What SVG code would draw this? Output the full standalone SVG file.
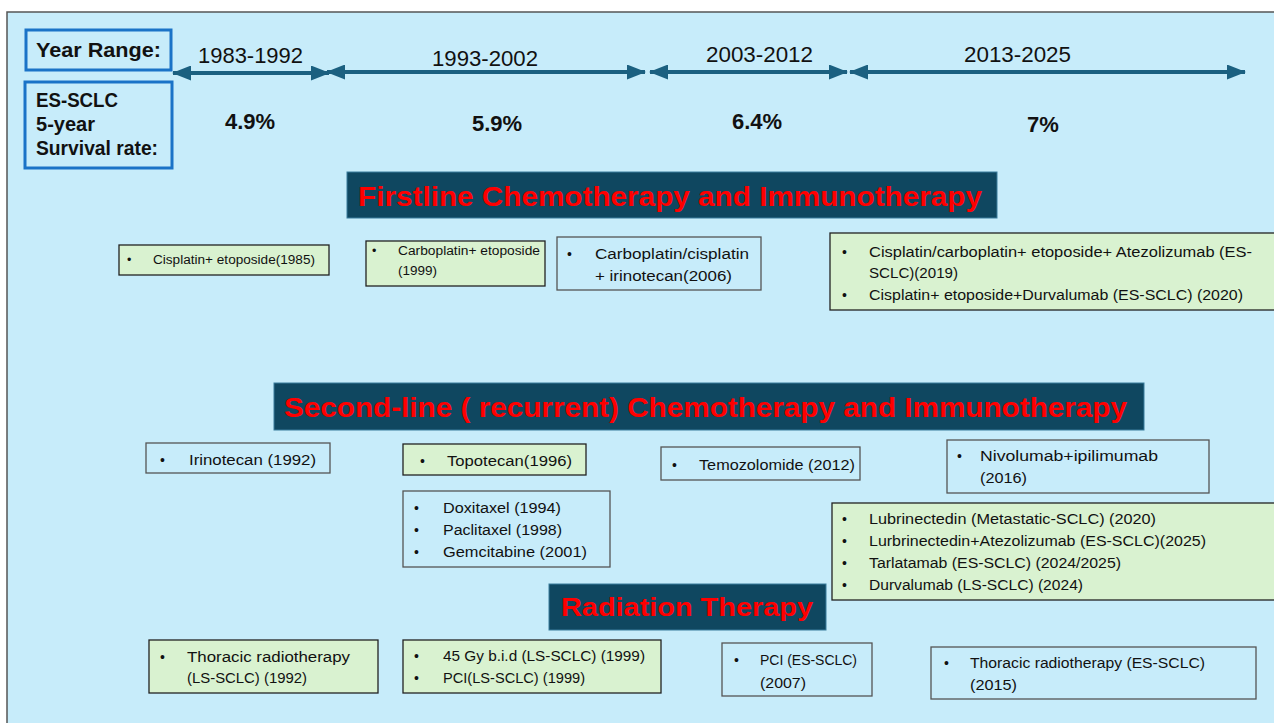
<svg xmlns="http://www.w3.org/2000/svg" width="1274" height="723" viewBox="0 0 1274 723">
<style>
.lbl{font-family:"Liberation Sans",Arial,sans-serif;font-weight:bold;font-size:20px;fill:#111}
.yr{font-family:"Liberation Sans",Arial,sans-serif;font-size:21.5px;fill:#111}
.pct{font-family:"Liberation Sans",Arial,sans-serif;font-weight:bold;font-size:22px;fill:#111}
.hdr{font-family:"Liberation Sans",Arial,sans-serif;font-weight:bold;fill:#ff0000}
.hbox{fill:#0f4760;stroke:#3a7d9c;stroke-width:1}
.bx{font-family:"Liberation Sans",Arial,sans-serif;font-size:14px;fill:#111}
.sm{font-size:12.5px}
.g{fill:#d9f2d0;stroke:#222;stroke-width:1.3}
.b{fill:#c7ecfa;stroke:#555;stroke-width:1.3}
.kb{fill:none;stroke:#1a73c7;stroke-width:3}
.arr{stroke:#1b6080;stroke-width:4;fill:none}
</style>
<defs>
<marker id="ah" viewBox="0 0 19 15" refX="18" refY="7.5" markerWidth="19" markerHeight="15" markerUnits="userSpaceOnUse" orient="auto-start-reverse">
<path d="M0,0 L19,7.5 L0,15 Z" fill="#1b6080"/>
</marker>
</defs>
<rect x="0" y="0" width="1274" height="723" fill="#ffffff"/>
<rect x="7" y="12" width="1280" height="720" fill="#c7ecfa" stroke="#555" stroke-width="1.5"/>

<g id="key-year">
<rect class="kb" x="26" y="30" width="145" height="40"/>
<text class="lbl" x="36" y="57" textLength="125" lengthAdjust="spacingAndGlyphs">Year Range:</text>
</g>
<g id="key-survival">
<rect class="kb" x="25" y="82" width="147" height="86"/>
<text class="lbl" x="36" y="107" textLength="82" lengthAdjust="spacingAndGlyphs">ES-SCLC</text>
<text class="lbl" x="36" y="131" textLength="59" lengthAdjust="spacingAndGlyphs">5-year</text>
<text class="lbl" x="36" y="155" textLength="122" lengthAdjust="spacingAndGlyphs">Survival rate:</text>
</g>

<g id="connectors">
<line class="arr" x1="173" y1="73" x2="329" y2="73" marker-start="url(#ah)" marker-end="url(#ah)"/>
<line class="arr" x1="327" y1="72" x2="645" y2="72" marker-start="url(#ah)" marker-end="url(#ah)"/>
<line class="arr" x1="650" y1="72" x2="847" y2="72" marker-start="url(#ah)" marker-end="url(#ah)"/>
<line class="arr" x1="850" y1="72" x2="1245" y2="72" marker-start="url(#ah)" marker-end="url(#ah)"/>
</g>

<g id="timeline-labels">
<text class="yr" x="198" y="63" textLength="105" lengthAdjust="spacingAndGlyphs">1983-1992</text>
<text class="yr" x="432" y="66" textLength="106" lengthAdjust="spacingAndGlyphs">1993-2002</text>
<text class="yr" x="706" y="62" textLength="107" lengthAdjust="spacingAndGlyphs">2003-2012</text>
<text class="yr" x="964" y="62" textLength="107" lengthAdjust="spacingAndGlyphs">2013-2025</text>
<text class="pct" x="250" y="129" text-anchor="middle">4.9%</text>
<text class="pct" x="497" y="131" text-anchor="middle">5.9%</text>
<text class="pct" x="757" y="129" text-anchor="middle">6.4%</text>
<text class="pct" x="1043" y="132" text-anchor="middle">7%</text>
</g>

<g id="hdr-firstline">
<rect class="hbox" x="347" y="172" width="650" height="46"/>
<text class="hdr" x="358" y="206" font-size="28" textLength="624" lengthAdjust="spacingAndGlyphs">Firstline Chemotherapy and Immunotherapy</text>
</g>
<g id="hdr-secondline">
<rect class="hbox" x="274" y="383" width="870" height="47"/>
<text class="hdr" x="284" y="417" font-size="28" textLength="843" lengthAdjust="spacingAndGlyphs">Second-line ( recurrent) Chemotherapy and Immunotherapy</text>
</g>
<g id="hdr-radiation">
<rect class="hbox" x="549" y="584" width="277" height="46"/>
<text class="hdr" x="561" y="616" font-size="26" textLength="252" lengthAdjust="spacingAndGlyphs">Radiation Therapy</text>
</g>

<g id="n-cis-eto">
<rect class="g" x="119" y="245" width="210" height="30"/>
<text class="bx sm" x="127" y="264">•</text>
<text class="bx sm" x="153" y="264" textLength="162" lengthAdjust="spacingAndGlyphs">Cisplatin+ etoposide(1985)</text>
</g>
<g id="n-carbo-eto">
<rect class="g" x="366" y="241" width="179" height="45"/>
<text class="bx sm" x="372" y="255">•</text>
<text class="bx sm" x="398" y="255" textLength="142" lengthAdjust="spacingAndGlyphs">Carboplatin+ etoposide</text>
<text class="bx sm" x="398" y="275" textLength="39" lengthAdjust="spacingAndGlyphs">(1999)</text>
</g>
<g id="n-carbo-irino">
<rect class="b" x="557" y="237" width="204" height="53"/>
<text class="bx" x="567" y="259">•</text>
<text class="bx" x="595" y="259" textLength="154" lengthAdjust="spacingAndGlyphs">Carboplatin/cisplatin</text>
<text class="bx" x="595" y="281" textLength="137" lengthAdjust="spacingAndGlyphs">+ irinotecan(2006)</text>
</g>
<g id="n-atezo-durva">
<rect class="g" x="830" y="233" width="450" height="77"/>
<text class="bx" x="842" y="257">•</text>
<text class="bx" x="869" y="257" textLength="383" lengthAdjust="spacingAndGlyphs">Cisplatin/carboplatin+ etoposide+ Atezolizumab (ES-</text>
<text class="bx" x="869" y="278" textLength="89" lengthAdjust="spacingAndGlyphs">SCLC)(2019)</text>
<text class="bx" x="842" y="300">•</text>
<text class="bx" x="869" y="300" textLength="374" lengthAdjust="spacingAndGlyphs">Cisplatin+ etoposide+Durvalumab (ES-SCLC) (2020)</text>
</g>

<g id="n-irinotecan">
<rect class="b" x="146" y="443" width="184" height="30"/>
<text class="bx" x="160" y="465">•</text>
<text class="bx" x="189" y="465" textLength="127" lengthAdjust="spacingAndGlyphs">Irinotecan (1992)</text>
</g>
<g id="n-topotecan">
<rect class="g" x="403" y="444" width="183" height="31"/>
<text class="bx" x="420" y="466">•</text>
<text class="bx" x="447" y="466" textLength="125" lengthAdjust="spacingAndGlyphs">Topotecan(1996)</text>
</g>
<g id="n-taxanes">
<rect class="b" x="403" y="491" width="207" height="76"/>
<text class="bx" x="414" y="513">•</text>
<text class="bx" x="443" y="513" textLength="118" lengthAdjust="spacingAndGlyphs">Doxitaxel (1994)</text>
<text class="bx" x="414" y="535">•</text>
<text class="bx" x="443" y="535" textLength="119" lengthAdjust="spacingAndGlyphs">Paclitaxel (1998)</text>
<text class="bx" x="414" y="557">•</text>
<text class="bx" x="443" y="557" textLength="144" lengthAdjust="spacingAndGlyphs">Gemcitabine (2001)</text>
</g>
<g id="n-temozolomide">
<rect class="b" x="661" y="447" width="199" height="33"/>
<text class="bx" x="672" y="470">•</text>
<text class="bx" x="699" y="470" textLength="156" lengthAdjust="spacingAndGlyphs">Temozolomide (2012)</text>
</g>
<g id="n-nivo-ipi">
<rect class="b" x="947" y="440" width="262" height="53"/>
<text class="bx" x="957" y="461">•</text>
<text class="bx" x="980" y="461" textLength="178" lengthAdjust="spacingAndGlyphs">Nivolumab+ipilimumab</text>
<text class="bx" x="980" y="483" textLength="47" lengthAdjust="spacingAndGlyphs">(2016)</text>
</g>
<g id="n-lurbi">
<rect class="g" x="832" y="503" width="450" height="97"/>
<text class="bx" x="842" y="524">•</text>
<text class="bx" x="869" y="524" textLength="287" lengthAdjust="spacingAndGlyphs">Lubrinectedin (Metastatic-SCLC) (2020)</text>
<text class="bx" x="842" y="546">•</text>
<text class="bx" x="869" y="546" textLength="337" lengthAdjust="spacingAndGlyphs">Lurbrinectedin+Atezolizumab (ES-SCLC)(2025)</text>
<text class="bx" x="842" y="568">•</text>
<text class="bx" x="869" y="568" textLength="252" lengthAdjust="spacingAndGlyphs">Tarlatamab (ES-SCLC) (2024/2025)</text>
<text class="bx" x="842" y="590">•</text>
<text class="bx" x="869" y="590" textLength="214" lengthAdjust="spacingAndGlyphs">Durvalumab (LS-SCLC) (2024)</text>
</g>

<g id="n-thoracic-ls">
<rect class="g" x="149" y="640" width="229" height="53"/>
<text class="bx" x="160" y="662">•</text>
<text class="bx" x="187" y="662" textLength="163" lengthAdjust="spacingAndGlyphs">Thoracic radiotherapy</text>
<text class="bx" x="187" y="683" textLength="120" lengthAdjust="spacingAndGlyphs">(LS-SCLC) (1992)</text>
</g>
<g id="n-45gy">
<rect class="g" x="403" y="640" width="258" height="53"/>
<text class="bx" x="414" y="661">•</text>
<text class="bx" x="443" y="661" textLength="202" lengthAdjust="spacingAndGlyphs">45 Gy b.i.d (LS-SCLC) (1999)</text>
<text class="bx" x="414" y="683">•</text>
<text class="bx" x="443" y="683" textLength="142" lengthAdjust="spacingAndGlyphs">PCI(LS-SCLC) (1999)</text>
</g>
<g id="n-pci-es">
<rect class="b" x="722" y="643" width="150" height="53"/>
<text class="bx" x="734" y="665">•</text>
<text class="bx" x="760" y="665" textLength="97" lengthAdjust="spacingAndGlyphs">PCI (ES-SCLC)</text>
<text class="bx" x="760" y="688" textLength="46" lengthAdjust="spacingAndGlyphs">(2007)</text>
</g>
<g id="n-thoracic-es">
<rect class="b" x="931" y="647" width="325" height="52"/>
<text class="bx" x="944" y="668">•</text>
<text class="bx" x="970" y="668" textLength="235" lengthAdjust="spacingAndGlyphs">Thoracic radiotherapy (ES-SCLC)</text>
<text class="bx" x="970" y="690" textLength="47" lengthAdjust="spacingAndGlyphs">(2015)</text>
</g>
</svg>
